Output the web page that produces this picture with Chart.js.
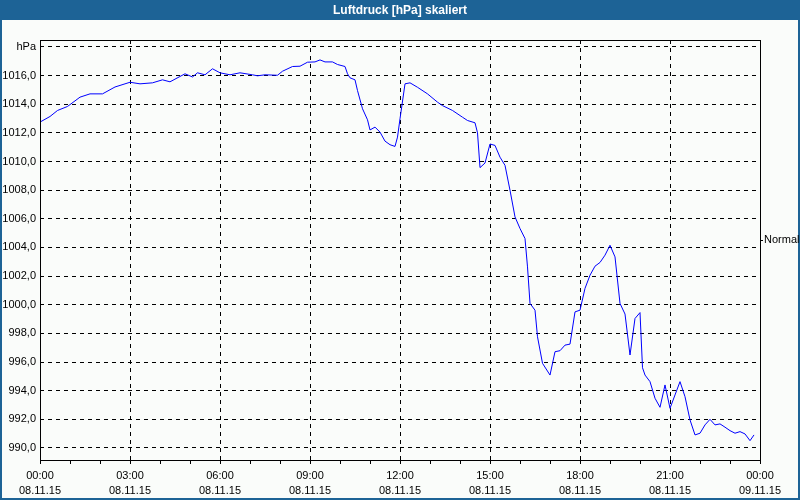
<!DOCTYPE html>
<html>
<head>
<meta charset="utf-8">
<script src="https://cdn.jsdelivr.net/npm/chart.js@4/dist/chart.umd.min.js"></script>
<style>
  html, body { margin: 0; padding: 0; background: #fafcfa; }
  canvas { display: block; }
</style>
</head>
<body>
<canvas id="c" width="800" height="500"></canvas>
<script>
// Minutes after 00:00 on 08.11.15
const minutes = [0,20,35,55,80,100,125,150,180,200,225,245,260,290,305,315,330,345,360,380,400,425,435,450,475,485,505,520,535,550,560,570,585,595,610,615,620,630,635,645,655,660,670,680,690,700,710,715,720,730,740,755,775,795,805,825,845,855,870,875,880,890,900,910,920,930,940,950,960,970,975,980,990,995,1005,1020,1030,1040,1050,1060,1070,1080,1090,1100,1110,1120,1130,1140,1150,1160,1170,1180,1190,1200,1205,1210,1220,1230,1240,1250,1260,1270,1280,1290,1300,1310,1320,1330,1340,1350,1360,1370,1380,1390,1400,1410,1420,1428];
// Air pressure in hPa
const pressure = [1012.75,1013.14,1013.56,1013.84,1014.49,1014.72,1014.72,1015.2,1015.53,1015.42,1015.49,1015.7,1015.56,1016.12,1015.9,1016.19,1016.05,1016.47,1016.19,1016.05,1016.19,1016.05,1015.98,1016.05,1016.02,1016.3,1016.63,1016.65,1016.93,1016.95,1017.09,1016.95,1016.95,1016.77,1016.63,1016.12,1015.84,1015.7,1014.95,1013.68,1012.91,1012.2,1012.4,1012.05,1011.42,1011.17,1011.05,1011.7,1012.98,1015.42,1015.49,1015.18,1014.72,1014.14,1013.9,1013.56,1013.09,1012.86,1012.7,1012.0,1009.57,1009.89,1011.22,1011.12,1010.3,1009.73,1007.99,1006.13,1005.32,1004.62,1002.64,1000.09,999.62,997.76,995.91,995.09,996.72,996.79,997.18,997.25,999.5,999.62,1001.14,1002.06,1002.69,1002.95,1003.46,1004.15,1003.34,1000.09,999.35,996.49,999.04,999.45,995.6,995.09,994.63,993.47,992.84,994.4,992.77,993.7,994.63,993.58,991.96,990.91,991.03,991.61,992.0,991.61,991.68,991.45,991.21,991.03,991.14,990.98,990.51,990.91];

const xTickLabels = [["00:00","08.11.15"],["03:00","08.11.15"],["06:00","08.11.15"],["09:00","08.11.15"],["12:00","08.11.15"],["15:00","08.11.15"],["18:00","08.11.15"],["21:00","08.11.15"],["00:00","09.11.15"]];
const yTickValues = [990,992,994,996,998,1000,1002,1004,1006,1008,1010,1012,1014,1016,1018];
const yTickLabels = ["990,0","992,0","994,0","996,0","998,0","1000,0","1002,0","1004,0","1006,0","1008,0","1010,0","1012,0","1014,0","1016,0","hPa"];
const normalValue = 1004.5;
const normalLabel = "Normal";
const titleText = "Luftdruck [hPa] skaliert";

const FONT = "'Liberation Sans', Arial, sans-serif";

const framePlugin = {
  id: 'frame',
  beforeDraw(chart) {
    const ctx = chart.ctx;
    ctx.save();
    ctx.fillStyle = '#fafcfa';
    ctx.fillRect(0, 0, 800, 500);
    ctx.fillStyle = '#1d6396';
    ctx.fillRect(0, 0, 800, 20);
    ctx.fillRect(0, 0, 2, 500);
    ctx.fillRect(798, 0, 2, 500);
    ctx.fillRect(0, 498, 800, 2);
    ctx.restore();
  },
  afterDraw(chart) {
    const a = chart.chartArea;
    const ctx = chart.ctx;
    ctx.save();
    ctx.strokeStyle = '#000';
    ctx.lineWidth = 1;
    ctx.setLineDash([]);
    ctx.strokeRect(Math.round(a.left) + 0.5, Math.round(a.top) + 0.5, Math.round(a.right - a.left), Math.round(a.bottom - a.top));
    ctx.restore();
  }
};

new Chart(document.getElementById('c'), {
  type: 'line',
  data: {
    datasets: [{
      data: minutes.map((m, i) => ({ x: m, y: pressure[i] })),
      borderColor: '#0000ff',
      borderWidth: 1,
      pointRadius: 0,
      tension: 0,
      fill: false
    }]
  },
  options: {
    responsive: false,
    animation: false,
    layout: { padding: 0 },
    plugins: {
      legend: { display: false },
      tooltip: { enabled: false },
      title: {
        display: true,
        text: titleText,
        color: '#ffffff',
        font: { family: FONT, size: 12, weight: 'bold', lineHeight: 1.2 },
        padding: { top: 3, bottom: 22.6 }
      }
    },
    scales: {
      x: {
        type: 'linear',
        min: 0,
        max: 1440,
        afterBuildTicks(scale) {
          const t = [];
          for (let v = 0; v <= 1440; v += 60) t.push({ value: v });
          scale.ticks = t;
        },
        afterFit(scale) { scale.height = 40; },
        ticks: {
          autoSkip: false,
          maxRotation: 0,
          minRotation: 0,
          padding: 4,
          color: '#000',
          font: { family: FONT, size: 11, lineHeight: 15 / 11 },
          callback: (v) => (v % 180 === 0 ? xTickLabels[v / 180] : '')
        },
        grid: {
          color: (ctx) => (ctx.tick && ctx.tick.value % 180 === 0 ? '#000' : 'rgba(0,0,0,0)'),
          tickColor: '#000',
          tickLength: 4,
          lineWidth: 1,
          drawTicks: true
        },
        border: { display: false, dash: [4, 4] }
      },
      y: {
        type: 'linear',
        position: 'left',
        min: 989.16,
        max: 1018.48,
        afterBuildTicks(scale) {
          scale.ticks = yTickValues.map(v => ({ value: v }));
        },
        afterFit(scale) { scale.width = 40; },
        ticks: {
          autoSkip: false,
          padding: 4,
          color: '#000',
          font: { family: FONT, size: 11 },
          callback: (v) => yTickLabels[yTickValues.indexOf(v)]
        },
        grid: {
          color: '#000',
          lineWidth: 1,
          drawTicks: false
        },
        border: { display: false, dash: [4, 4] }
      },
      yR: {
        type: 'linear',
        position: 'right',
        min: 989.16,
        max: 1018.48,
        afterBuildTicks(scale) {
          scale.ticks = [{ value: normalValue }];
        },
        afterFit(scale) { scale.width = 40; },
        ticks: {
          autoSkip: false,
          padding: 1,
          color: '#000',
          font: { family: FONT, size: 11 },
          callback: () => normalLabel
        },
        grid: {
          drawOnChartArea: false,
          drawTicks: true,
          tickLength: 3,
          tickColor: '#000',
          color: '#000'
        },
        border: { display: false }
      }
    }
  },
  plugins: [framePlugin]
});
</script>
</body>
</html>
